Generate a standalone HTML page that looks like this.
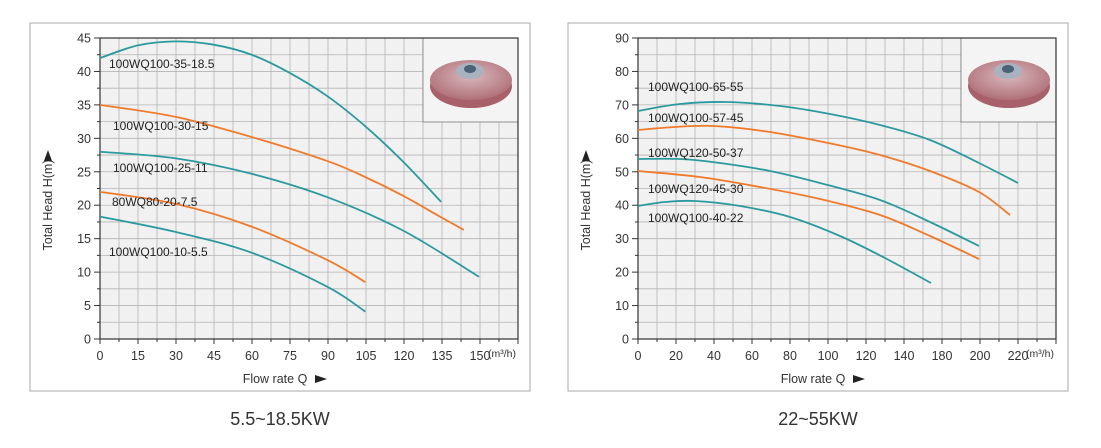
<!DOCTYPE html>
<html><head><meta charset="utf-8">
<style>
html,body{margin:0;padding:0;background:#fff;}
svg{display:block;font-family:"Liberation Sans",sans-serif;}
</style></head>
<body>
<svg id="s" width="1101" height="448" viewBox="0 0 1101 448" xmlns="http://www.w3.org/2000/svg">
<defs>
<radialGradient id="disk" cx="0.5" cy="0.4" r="0.6">
<stop offset="0" stop-color="#d8b8bc"/><stop offset="1" stop-color="#b07078"/>
</radialGradient>
</defs>
<g id="root"></g>
</svg>
<script>
var NS="http://www.w3.org/2000/svg",root=document.getElementById('root');
function el(t,a,txt){var e=document.createElementNS(NS,t);for(var k in a)e.setAttribute(k,a[k]);if(txt!=null)e.textContent=txt;root.appendChild(e);return e;}
function smooth(p){var d="M"+p[0][0]+","+p[0][1];for(var i=0;i<p.length-1;i++){var p0=p[i-1]||p[i],p1=p[i],p2=p[i+1],p3=p[i+2]||p2;
d+=" C"+(p1[0]+(p2[0]-p0[0])/6)+","+(p1[1]+(p2[1]-p0[1])/6)+" "+(p2[0]-(p3[0]-p1[0])/6)+","+(p2[1]-(p3[1]-p1[1])/6)+" "+p2[0]+","+p2[1];}return d;}
var TEAL="#2b9a9e",OR="#f07a2a";
function panel(bx,px,xlabels,ylabels,curves,labels,caption){
 el('rect',{x:bx,y:23,width:500,height:368,fill:'none',stroke:'#b8b8b8','stroke-width':1.2});
 var L=px,T=38,B=339,W=418,cw=19,ch=(B-T)/18;
 el('rect',{x:L,y:T,width:W,height:B-T,fill:'#f1f1f1'});
 for(var i=1;i<22;i++)el('line',{x1:L+i*cw,y1:T,x2:L+i*cw,y2:B,stroke:'#b5b5b5','stroke-width':0.8});
 for(var j=1;j<18;j++)el('line',{x1:L,y1:T+j*ch,x2:L+W,y2:T+j*ch,stroke:'#b5b5b5','stroke-width':0.8});
 el('rect',{x:L+W-95,y:T,width:95,height:84,fill:'#f4f4f4',stroke:'#777','stroke-width':0.8});
 var cx=L+W-47,cy=T+42;
 el('ellipse',{cx:cx,cy:cy+6,rx:41,ry:22,fill:'#a8606a'});
 el('ellipse',{cx:cx,cy:cy,rx:41,ry:20,fill:'url(#disk)'});
 el('ellipse',{cx:cx-1,cy:cy-9,rx:14,ry:8,fill:'#a9b3bf'});
 el('ellipse',{cx:cx-1,cy:cy-11,rx:6,ry:4,fill:'#4c6076'});
 el('rect',{x:L,y:T,width:W,height:B-T,fill:'none',stroke:'#333','stroke-width':1.2});
 for(var j=0;j<=18;j++){var y=T+j*ch;el('line',{x1:L-(j%2?3:6),y1:y,x2:L,y2:y,stroke:'#333','stroke-width':1});}
 for(var i=0;i<=22;i++){var x=L+i*cw;el('line',{x1:x,y1:B,x2:x,y2:B+(i%2?3:5),stroke:'#333','stroke-width':1});}
 for(var j=0;j<ylabels.length;j++)el('text',{x:L-9,y:B-j*2*ch+4.5,'text-anchor':'end','font-size':12.5,fill:'#333'},ylabels[j]);
 for(var i=0;i<xlabels.length;i++)el('text',{x:L+i*2*cw,y:B+21,'text-anchor':'middle','font-size':12.5,fill:'#333'},xlabels[i]);
 el('text',{x:L+10*2*cw+8,y:B+18,'font-size':10.5,fill:'#333'},'(m³/h)');
 el('text',{x:L+175,y:383,'text-anchor':'middle','font-size':12.5,fill:'#333'},'Flow rate Q');
 el('path',{d:'M'+(L+215)+',375 L'+(L+227)+',379 L'+(L+215)+',383Z',fill:'#222'});
 el('text',{x:0,y:0,'text-anchor':'middle','font-size':12.5,fill:'#333',transform:'translate('+(bx+22)+',205) rotate(-90)'},'Total Head H(m)');
 el('path',{d:'M'+(bx+14)+',161 L'+(bx+18)+',150 L'+(bx+22)+',161Z',fill:'#222'});
 curves.forEach(function(c){el('path',{d:smooth(c.p),fill:'none',stroke:c.c,'stroke-width':1.8});});
 labels.forEach(function(l){el('text',{x:l[0],y:l[1],'font-size':12,fill:'#222'},l[2]);});
 el('text',{x:bx+250,y:425,'text-anchor':'middle','font-size':18,fill:'#333'},caption);
}
function lp(pts){return pts.map(function(q){return [100+q[0]*379/150,339-q[1]*301/45];});}
panel(30,100,['0','15','30','45','60','75','90','105','120','135','150'],['0','5','10','15','20','25','30','35','40','45'],[
 {c:TEAL,p:lp([[0,42],[15,43.9],[30,44.5],[45,44],[60,42.5],[75,39.8],[90,36.3],[105,31.8],[120,26.5],[135,20.5]])},
 {c:OR,p:lp([[0,35],[30,33.2],[60,30.2],[90,26.6],[105,24.2],[120,21.4],[135,18.2],[144,16.3]])},
 {c:TEAL,p:lp([[0,28],[30,27],[60,24.7],[90,21.2],[120,16.2],[150,9.3]])},
 {c:OR,p:lp([[0,22],[30,20.2],[60,16.8],[90,11.8],[105,8.5]])},
 {c:TEAL,p:lp([[0,18.3],[30,16],[60,12.9],[90,7.8],[105,4.1]])}
],[[109,68,'100WQ100-35-18.5'],[113,130,'100WQ100-30-15'],[113,172,'100WQ100-25-11'],[112,206,'80WQ80-20-7.5'],[109,256,'100WQ100-10-5.5']],'5.5~18.5KW');
panel(568,638,['0','20','40','60','80','100','120','140','180','200','220'],['0','10','20','30','40','50','60','70','80','90'],[
 {c:TEAL,p:[[638,111],[680,104],[727,102],[780,106],[830,114],[880,125],[930,140],[979,163],[1018,183]]},
 {c:OR,p:[[638,130],[675,127],[714,126],[770,132],[833,144],[880,155],[930,171],[979,192],[1010,215]]},
 {c:TEAL,p:[[638,159],[680,159],[720,163],[770,171],[820,183],[880,200],[930,222],[979,246]]},
 {c:OR,p:[[638,171],[700,177],[760,187],[820,199],[880,215],[930,236],[979,259]]},
 {c:TEAL,p:[[638,206],[665,202],[695,201],[740,206],[790,217],[840,236],[885,258],[931,283]]}
],[[648,91,'100WQ100-65-55'],[648,122,'100WQ100-57-45'],[648,157,'100WQ120-50-37'],[648,193,'100WQ120-45-30'],[648,222,'100WQ100-40-22']],'22~55KW');
</script>
</body></html>
